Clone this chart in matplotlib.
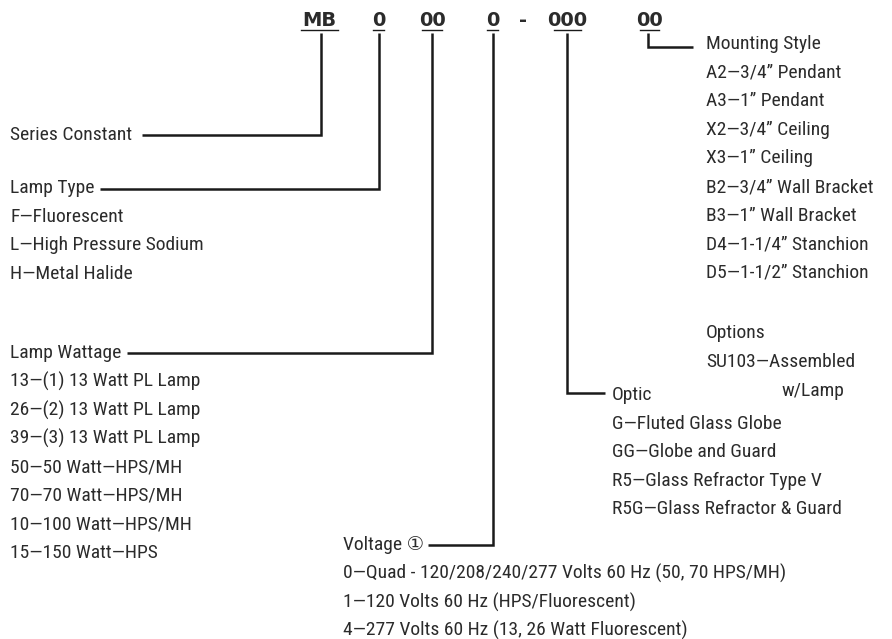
import matplotlib
matplotlib.use("Agg")
from matplotlib import pyplot as plt
from matplotlib import font_manager

# catalogue code parts (header) and what each one means
code_parts = ["MB", "0", "00", "0", "-", "000", "00"]
code_underlined = [True, True, True, True, False, True, True]

series_title = "Series Constant"

lamp_type_title = "Lamp Type"
lamp_types = ["F\u2014Fluorescent", "L\u2014High Pressure Sodium", "H\u2014Metal Halide"]

wattage_title = "Lamp Wattage"
wattages = ["13\u2014(1) 13 Watt PL Lamp", "26\u2014(2) 13 Watt PL Lamp",
            "39\u2014(3) 13 Watt PL Lamp", "50\u201450 Watt\u2014HPS/MH",
            "70\u201470 Watt\u2014HPS/MH", "10\u2014100 Watt\u2014HPS/MH",
            "15\u2014150 Watt\u2014HPS"]

voltage_title = "Voltage \u2460"
voltages = ["0\u2014Quad - 120/208/240/277 Volts 60 Hz (50, 70 HPS/MH)",
            "1\u2014120 Volts 60 Hz (HPS/Fluorescent)",
            "4\u2014277 Volts 60 Hz (13, 26 Watt Fluorescent)"]

optic_title = "Optic"
optics = ["G\u2014Fluted Glass Globe", "GG\u2014Globe and Guard",
          "R5\u2014Glass Refractor Type V", "R5G\u2014Glass Refractor & Guard"]

mounting_title = "Mounting Style"
mountings = ["A2\u20143/4\u201d Pendant", "A3\u20141\u201d Pendant",
             "X2\u20143/4\u201d Ceiling", "X3\u20141\u201d Ceiling",
             "B2\u20143/4\u201d Wall Bracket", "B3\u20141\u201d Wall Bracket",
             "D4\u20141-1/4\u201d Stanchion", "D5\u20141-1/2\u201d Stanchion"]

options_title = "Options"
options = ["SU103\u2014Assembled", "w/Lamp"]

# pick a narrow face if there is one
names = {f.name for f in font_manager.fontManager.ttflist}
stretch = "normal"
fam = "Roboto"
for cand in ["Liberation Sans Narrow", "Roboto Condensed", "Open Sans Condensed",
             "DejaVu Sans Condensed"]:
    if cand in names:
        fam = cand
        break
else:
    if any(f.name == "DejaVu Sans" and f.stretch == "condensed"
           for f in font_manager.fontManager.ttflist):
        fam, stretch = "DejaVu Sans", "condensed"

txt_col = "#2b2b2b"
line_col = "#1a1a1a"
fs = 14
step = 28.6

fig = plt.figure(figsize=(8.92, 6.39), dpi=100)
ax = fig.add_axes([0, 0, 1, 1])
ax.set_xlim(0, 892)
ax.set_ylim(639, 0)
ax.axis("off")


def label(x, y, s, **kw):
    ax.text(x, y, s, fontsize=fs, color=txt_col, va="center", ha="left",
            family=[fam, "DejaVu Sans"], fontstretch=stretch, **kw)


def block(x, y, title, items):
    label(x, y, title)
    for i, s in enumerate(items):
        label(x, y + step * (i + 1), s)


def line(xs, ys):
    ax.plot(xs, ys, color=line_col, lw=1.8, solid_capstyle="butt",
            solid_joinstyle="miter")


# header codes, underlined
code_x = [319.5, 378.5, 432, 492.5, 523.5, 567.5, 649.5]
for s, x, u in zip(code_parts, code_x, code_underlined):
    t = ax.text(x, 21, s, fontsize=14, fontweight="bold", color=txt_col,
                va="center", ha="center", family="DejaVu Sans")
    if u:
        w = 8.6 * len(s) if s != "MB" else 35
        ax.plot([x - w / 2 - 1, x + w / 2 + 1], [29.5, 29.5], color=line_col, lw=1.0)

# leaders
line([321, 321, 142], [33, 135, 135])
line([379, 379, 100], [33, 189, 189])
line([432, 432, 127], [33, 353, 353])
line([493, 493, 428], [33, 545, 545])
line([567, 567, 605], [33, 393, 393])
line([648, 648, 693], [33, 47, 47])

# text blocks
label(10, 135, series_title)
block(10, 188, lamp_type_title, lamp_types)
block(10, 353, wattage_title, wattages)
block(343, 545, voltage_title, voltages)
block(612, 395, optic_title, optics)
block(706, 44, mounting_title, mountings)
label(706, 333, options_title)
label(706, 362, options[0])
label(781, 391, options[1])

fig.savefig("out.png", dpi=100)
